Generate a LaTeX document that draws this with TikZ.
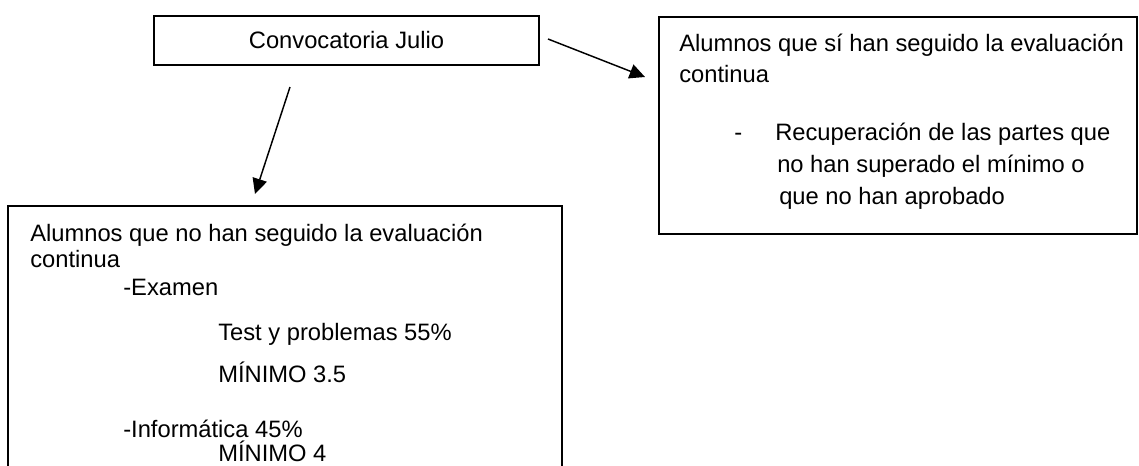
\documentclass[tikz,border=0pt]{standalone}
\usepackage{fontspec}
\setmainfont{Liberation Sans}
\usetikzlibrary{arrows.meta}
\begin{document}
\begin{tikzpicture}[x=0.75pt,y=-0.75pt,
  font=\fontsize{17.8pt}{20pt}\selectfont,
  boxframe/.style={draw=black, line width=1.1pt, rectangle, inner sep=0pt},
  txt/.style={anchor=base west, inner sep=0pt},
  conn/.style={line width=1.1pt, -{Triangle[length=11.5pt,width=11pt]}}]
\useasboundingbox (0,0) rectangle (1139,465);
\clip (0,0) rectangle (1139,465);
% boxes
\node[boxframe, minimum width=288.75pt, minimum height=36.75pt] (top) at (346.5,40.5) {Convocatoria Julio};
\node[boxframe, minimum width=358.5pt, minimum height=162.75pt] (right) at (898,125.5) {};
\node[boxframe, minimum width=415.5pt, minimum height=220.5pt] (bottom) at (285,353) {};
% right box text
\node[txt] (r1) at (679,51) {Alumnos que sí han seguido la evaluación};
\node[txt] (r2) at (679,82) {continua};
\node[txt] (r3) at (734,140) {-};
\node[txt] (r4) at (775,140) {Recuperación de las partes que};
\node[txt] (r5) at (777,172) {no han superado el mínimo o};
\node[txt] (r6) at (779,204) {que no han aprobado};
% bottom box text
\node[txt] (b1) at (30,241) {Alumnos que no han seguido la evaluación};
\node[txt] (b2) at (30,267) {continua};
\node[txt] (b3) at (123,295) {-Examen};
\node[txt] (b4) at (218,340) {Test y problemas 55\%};
\node[txt] (b5) at (218,382) {MÍNIMO 3.5};
\node[txt] (b6) at (123,437) {-Informática 45\%};
\node[txt] (b7) at (218,461) {MÍNIMO 4};
% connectors
\coordinate (a1s) at (290,87);
\coordinate (a1e) at (255,194);
\coordinate (a2s) at (548,39);
\coordinate (a2e) at (645,77);
\draw[conn] (a1s) -- (a1e);
\draw[conn] (a2s) -- (a2e);
\end{tikzpicture}
\end{document}
